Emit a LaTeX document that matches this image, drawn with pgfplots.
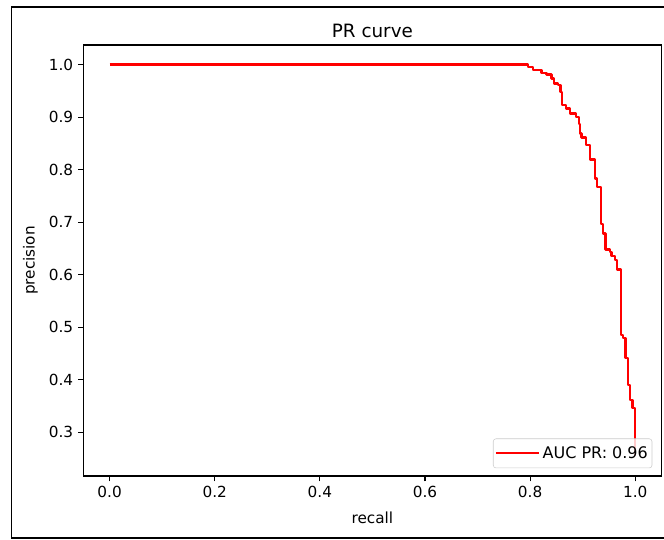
\documentclass[border=0pt]{standalone}
\usepackage{fontspec}
\setmainfont{DejaVu Sans}
\usepackage{pgfplots}
\pgfplotsset{compat=1.18}

\begin{document}
\begin{tikzpicture}
% outer frame of the figure (right side is cut off)
\begin{scope}[x=0.72pt,y=0.72pt]
\draw[line width=1.3pt] (680,1) -- (11.5,1) -- (11.5,532) -- (680,532);
\end{scope}
\begin{axis}[
    at={(59.98pt,45.36pt)}, anchor=south west,
    scale only axis,
    width=416.3pt, height=310.3pt,
    xmin=-0.05, xmax=1.05,
    ymin=0.2167, ymax=1.0373,
    xtick={0,0.2,0.4,0.6,0.8,1.0},
    ytick={0.3,0.4,0.5,0.6,0.7,0.8,0.9,1.0},
    xticklabel style={/pgf/number format/.cd, fixed, fixed zerofill, precision=1},
    yticklabel style={/pgf/number format/.cd, fixed, fixed zerofill, precision=1},
    /pgf/number format/assume math mode=true,
    tick align=outside, tick pos=left,
    major tick length=3.8pt,
    every tick/.style={black, line width=0.85pt},
    axis line style={line width=0.85pt},
    tick label style={font=\fontsize{11}{13}\selectfont},
    label style={font=\fontsize{11}{13}\selectfont},
    title={PR curve},
    title style={font=\fontsize{13.2}{15}\selectfont, yshift=-4pt},
    xlabel={recall}, ylabel={precision},
    xlabel style={yshift=-3pt},
    ylabel style={yshift=1pt},
    legend style={
        at={(0.984,0.018)}, anchor=south east,
        font=\fontsize{11.5}{13}\selectfont,
        draw=black!20, rounded corners=2pt,
        fill=white, fill opacity=0.8, text opacity=1,
        inner xsep=1pt, inner ysep=3.5pt,
    },
    legend image code/.code={
        \path (0pt,0pt) -- (31pt,0pt);
        \draw[#1] (4pt,0pt) -- (28pt,0pt);
    },
    legend cell align=left,
]
\addplot[red, line width=1.6pt, line join=round] coordinates {
    (0.0,1.0) (0.796,1.0) (0.796,0.9954) (0.8055,0.9954) (0.8055,0.9892)
    (0.8215,0.9892) (0.8215,0.984) (0.831,0.984) (0.831,0.981)
    (0.8405,0.981) (0.8405,0.9734) (0.845,0.9734) (0.845,0.9639)
    (0.853,0.9639) (0.853,0.9606) (0.8577,0.9606) (0.8577,0.9479)
    (0.860,0.9479) (0.860,0.9226) (0.869,0.9226) (0.869,0.9163)
    (0.8754,0.9163) (0.8754,0.9068) (0.888,0.9068) (0.888,0.9003)
    (0.893,0.9003) (0.893,0.8864) (0.8944,0.8864) (0.8944,0.8687)
    (0.8976,0.8687) (0.8976,0.8611) (0.907,0.8611) (0.907,0.8465)
    (0.9134,0.8465) (0.9134,0.8193) (0.923,0.8193) (0.923,0.7831)
    (0.9273,0.7831) (0.9273,0.7672) (0.9350,0.7672) (0.9350,0.6962)
    (0.9387,0.6962) (0.9387,0.6785) (0.9433,0.6785) (0.9433,0.6481)
    (0.9515,0.6481) (0.9515,0.6435) (0.9547,0.6435) (0.9547,0.6353)
    (0.961,0.6353) (0.961,0.6277) (0.9653,0.6277) (0.9653,0.610)
    (0.9724,0.610) (0.9724,0.485) (0.9768,0.485) (0.9768,0.4788)
    (0.9813,0.4788) (0.9813,0.4407) (0.9863,0.4407) (0.9863,0.390)
    (0.9895,0.390) (0.9895,0.3614) (0.9947,0.3614) (0.9947,0.3456)
    (1.0,0.3456) (1.0,0.254)
};
\addlegendentry{AUC PR: 0.96}
\end{axis}
\pgfresetboundingbox
\useasboundingbox (0,0) rectangle (478.08pt,388.08pt);
\end{tikzpicture}
\end{document}
